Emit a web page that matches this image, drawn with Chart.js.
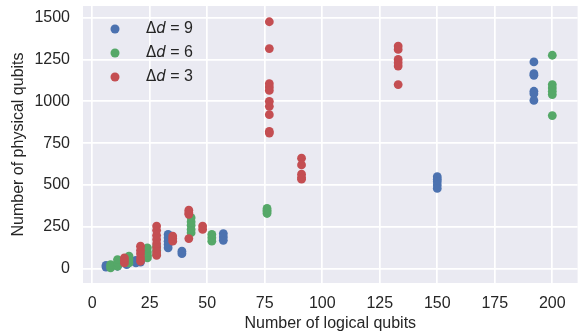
<!DOCTYPE html>
<html>
<head>
<meta charset="utf-8">
<script src="https://cdn.jsdelivr.net/npm/chart.js@4.4.1/dist/chart.umd.min.js"></script>
<style>
  html, body { margin: 0; padding: 0; background: #ffffff; }
  #wrap { width: 582px; height: 335px; position: relative; }
</style>
</head>
<body>
<div id="wrap"><canvas id="c" width="582" height="335"></canvas></div>
<script>
// ---- Data ----
const xTicks = [0, 25, 50, 75, 100, 125, 150, 175, 200];
const yTicks = [0, 250, 500, 750, 1000, 1250, 1500];

const legendLabels = ["9", "6", "3"]; // Δd values

// Δd = 9 (blue)
const d9X = [6, 6, 7, 11, 11, 15, 15, 19, 19, 21, 21,
             33, 33, 33, 33, 33, 39, 39, 57, 57, 57,
             150, 150, 150, 150, 150,
             192, 192, 192, 192, 192, 192];
const d9Y = [10, 20, 15, 15, 25, 25, 35, 35, 50, 40, 55,
             205, 185, 165, 145, 125, 105, 90, 210, 190, 170,
             550, 535, 520, 500, 480,
             1235, 1165, 1155, 1060, 1045, 1005];

// Δd = 6 (green)
const d6X = [8, 8, 8, 11, 11, 11, 16, 16, 16, 24, 24, 24, 24, 28, 28, 28,
             43, 43, 43, 43, 43, 52, 52, 52, 76, 76, 76, 76,
             200, 200, 200, 200, 200, 200];
const d6Y = [5, 15, 25, 15, 35, 55, 35, 55, 75, 65, 80, 100, 125, 85, 110, 135,
             215, 235, 260, 280, 305, 165, 185, 205, 330, 340, 350, 360,
             1275, 1100, 1080, 1060, 1040, 915];

// Δd = 3 (red)
const d3X = [14, 14, 14, 21, 21, 21, 21, 21,
             28, 28, 28, 28, 28, 28, 28, 28,
             35, 35, 35, 42, 42, 42, 42, 48, 48,
             77, 77, 77, 77, 77, 77, 77, 77, 77, 77,
             91, 91, 91, 91, 91,
             133, 133, 133, 133, 133, 133];
const d3Y = [35, 50, 65, 45, 65, 90, 110, 135,
             80, 100, 125, 150, 175, 200, 230, 255,
             165, 180, 195, 180, 325, 335, 350, 235, 255,
             1475, 1315, 1105, 1085, 1065, 1000, 970, 920, 820, 810,
             660, 620, 565, 545, 535,
             1330, 1310, 1250, 1230, 1210, 1100];

// ---- Styles ----
const colors = ["#4C72B0", "#55A868", "#C44E52"];
const toPts = (xs, ys) => xs.map((x, i) => ({ x: x, y: ys[i] }));
const FONT = "'Liberation Sans', Arial, sans-serif";

const bgPlugin = {
  id: "bg",
  beforeDraw(chart) {
    const { ctx, chartArea: a } = chart;
    ctx.save();
    ctx.fillStyle = "#EAEAF2";
    ctx.fillRect(a.left, a.top, a.right - a.left, a.bottom - a.top);
    ctx.restore();
  }
};

const legendPlugin = {
  id: "mathLegend",
  afterDraw(chart) {
    const { ctx, chartArea: a } = chart;
    ctx.save();
    ctx.textBaseline = "middle";
    legendLabels.forEach((lab, i) => {
      const cy = a.top + 23 + i * 24;
      const mx = a.left + 32;
      ctx.fillStyle = colors[i];
      ctx.beginPath();
      ctx.arc(mx, cy, 4.5, 0, Math.PI * 2);
      ctx.fill();
      let tx = a.left + 63;
      ctx.fillStyle = "#262626";
      ctx.font = "15px 'DejaVu Sans'";
      ctx.fillText("\u0394", tx, cy);
      tx += ctx.measureText("\u0394").width;
      ctx.font = "italic 15px 'DejaVu Sans'";
      ctx.fillText("d", tx, cy);
      tx += ctx.measureText("d").width;
      ctx.font = "16px " + FONT;
      ctx.fillText(" = " + lab, tx, cy);
    });
    ctx.restore();
  }
};

const datasets = [
  { label: "\u0394d = 9", data: toPts(d9X, d9Y), order: 3 },
  { label: "\u0394d = 6", data: toPts(d6X, d6Y), order: 2 },
  { label: "\u0394d = 3", data: toPts(d3X, d3Y), order: 1 }
].map((d, i) => Object.assign(d, {
  backgroundColor: colors[i],
  borderColor: colors[i],
  borderWidth: 0,
  pointRadius: 4.4,
  pointHoverRadius: 4.4
}));

new Chart(document.getElementById("c"), {
  type: "scatter",
  data: { datasets },
  plugins: [bgPlugin, legendPlugin],
  options: {
    responsive: false,
    animation: false,
    events: [],
    layout: { padding: { top: 6, right: 0, left: 0, bottom: 0 } },
    plugins: { legend: { display: false }, tooltip: { enabled: false } },
    scales: {
      x: {
        type: "linear",
        min: -4, max: 211,
        afterBuildTicks: s => { s.ticks = xTicks.map(v => ({ value: v })); },
        afterFit: s => { s.height = 52; s.paddingLeft = 0; s.paddingRight = 0; },
        border: { display: false },
        grid: { color: "#ffffff", lineWidth: 1.7, drawTicks: false },
        ticks: { padding: 11, color: "#262626", font: { family: FONT, size: 16 },
                 callback: v => String(v) },
        title: { display: true, text: "Number of logical qubits", color: "#262626",
                 font: { family: FONT, size: 16 }, padding: { top: 0, bottom: 2 } }
      },
      y: {
        type: "linear",
        min: -85, max: 1569,
        afterBuildTicks: s => { s.ticks = yTicks.map(v => ({ value: v })); },
        afterFit: s => { s.width = 83; s.paddingTop = 0; s.paddingBottom = 0; },
        border: { display: false },
        grid: { color: "#ffffff", lineWidth: 1.7, drawTicks: false },
        ticks: { padding: 13, color: "#262626", font: { family: FONT, size: 16 },
                 callback: v => String(v) },
        title: { display: true, text: "Number of physical qubits", color: "#262626",
                 font: { family: FONT, size: 16 }, padding: { top: 9, bottom: 0 } }
      }
    }
  }
});
</script>
</body>
</html>
